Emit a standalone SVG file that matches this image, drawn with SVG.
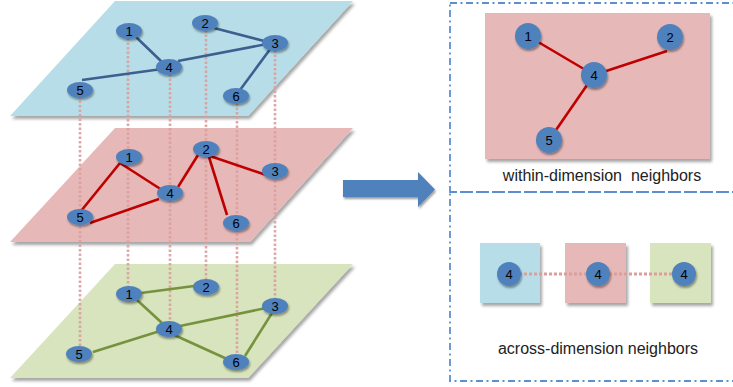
<svg xmlns="http://www.w3.org/2000/svg" width="733" height="387" viewBox="0 0 733 387">
<defs>
<filter id="sh" x="-20%" y="-20%" width="140%" height="150%">
<feDropShadow dx="2" dy="3" stdDeviation="1.8" flood-color="#000" flood-opacity="0.35"/>
</filter>
<filter id="nsh" x="-50%" y="-50%" width="200%" height="200%">
<feDropShadow dx="1" dy="2" stdDeviation="1.2" flood-color="#000" flood-opacity="0.4"/>
</filter>
<style>
.pb{fill:#b7dee8}
.pp{fill:#e6b9b8}
.pg{fill:#d7e4bd}
.nd{fill:#4f81bd;filter:url(#nsh)}
.lb{font-family:"Liberation Sans",Arial,sans-serif;font-size:13px;fill:#000;text-anchor:middle}
.cap{font-family:"Liberation Sans",Arial,sans-serif;font-size:16px;fill:#222;text-anchor:middle;white-space:pre}
.eb{stroke:#3c5f8f;stroke-width:2.6;fill:none}
.er{stroke:#c00000;stroke-width:2.6;fill:none}
.eg{stroke:#76923c;stroke-width:2.6;fill:none}
.vd{stroke:#dc9e9c;stroke-width:2.6;stroke-dasharray:2.5 2;fill:none;opacity:0.9}
.bx{fill:none;stroke:#5b8fd0;stroke-width:1.8;stroke-dasharray:7 3.5 2 3.5}
</style>
</defs>

<!-- planes -->
<g id="plane-top"><polygon class="pb" filter="url(#sh)" points="115,1 353,1 248,116 10,116"/></g>
<g id="plane-mid"><polygon class="pp" filter="url(#sh)" points="115,128 353,128 250,242 10,242"/></g>
<g id="plane-bot"><polygon class="pg" filter="url(#sh)" points="115,264 353,264 248,378 10,378"/></g>

<!-- right panels -->
<g id="panel-within">
<rect class="bx" x="450" y="3" width="290" height="189"/>
<rect x="485" y="13" width="225" height="146" fill="#e6b9b8" filter="url(#sh)"/>
<text class="cap" x="602" y="181" xml:space="preserve">within-dimension  neighbors</text>
</g>
<g id="panel-across">
<rect class="bx" x="450" y="192" width="290" height="189"/>
<rect x="480" y="243" width="60" height="60" class="pb" filter="url(#sh)"/>
<rect x="565" y="243" width="61" height="60" class="pp" filter="url(#sh)"/>
<rect x="650" y="243" width="61" height="60" class="pg" filter="url(#sh)"/>
<text class="cap" x="598" y="354">across-dimension neighbors</text>
</g>

<!-- connectors -->
<g id="connectors">
<line class="vd" x1="80" y1="96" x2="80" y2="350"/>
<line class="vd" x1="128" y1="38" x2="128" y2="290"/>
<line class="vd" x1="170" y1="74" x2="170" y2="325"/>
<line class="vd" x1="206" y1="30" x2="206" y2="283"/>
<line class="vd" x1="237" y1="103" x2="237" y2="357"/>
<line class="vd" x1="275" y1="50" x2="275" y2="302"/>

<line class="eb" x1="136" y1="37" x2="163" y2="63"/>
<line class="eb" x1="214" y1="28" x2="268" y2="42"/>
<line class="eb" x1="178" y1="61" x2="267" y2="44"/>
<line class="eb" x1="162" y1="69" x2="82" y2="80"/>
<line class="eb" x1="271" y1="48" x2="240" y2="90"/>

<line class="er" x1="120" y1="163" x2="81" y2="211"/>
<line class="er" x1="120" y1="163" x2="162" y2="190"/>
<line class="er" x1="178" y1="187" x2="198" y2="155"/>
<line class="er" x1="210" y1="156" x2="266" y2="175"/>
<line class="er" x1="209" y1="157" x2="227" y2="215"/>
<line class="er" x1="90" y1="223" x2="159" y2="199"/>

<line class="eg" x1="141" y1="293" x2="194" y2="286"/>
<line class="eg" x1="137" y1="300" x2="162" y2="323"/>
<line class="eg" x1="180" y1="326" x2="266" y2="308"/>
<line class="eg" x1="272" y1="313" x2="245" y2="356"/>
<line class="eg" x1="172" y1="334" x2="227" y2="359"/>
<line class="eg" x1="160" y1="331" x2="93" y2="352"/>

<line class="er" x1="528" y1="36" x2="594" y2="75"/>
<line class="er" x1="594" y1="75" x2="667" y2="51"/>
<line class="er" x1="594" y1="75" x2="556" y2="130"/>

<line stroke="#dc9e9c" stroke-width="3" stroke-dasharray="3 2" x1="509" y1="274" x2="684" y2="274"/>
</g>

<!-- top layer nodes -->
<g id="t1"><ellipse class="nd" cx="129" cy="31" rx="13" ry="8"/><text class="lb" x="129" y="36">1</text></g>
<g id="t2"><ellipse class="nd" cx="205" cy="23" rx="13" ry="8"/><text class="lb" x="205" y="28">2</text></g>
<g id="t3"><ellipse class="nd" cx="275" cy="43" rx="13" ry="8"/><text class="lb" x="275" y="48">3</text></g>
<g id="t4"><ellipse class="nd" cx="169" cy="67" rx="13" ry="8"/><text class="lb" x="169" y="72">4</text></g>
<g id="t5"><ellipse class="nd" cx="80" cy="90" rx="13" ry="8"/><text class="lb" x="80" y="95">5</text></g>
<g id="t6"><ellipse class="nd" cx="236" cy="96" rx="13" ry="8"/><text class="lb" x="236" y="101">6</text></g>

<!-- middle layer nodes -->
<g id="m1"><ellipse class="nd" cx="129" cy="157" rx="13" ry="8"/><text class="lb" x="129" y="162">1</text></g>
<g id="m2"><ellipse class="nd" cx="206" cy="149" rx="13" ry="8"/><text class="lb" x="206" y="154">2</text></g>
<g id="m3"><ellipse class="nd" cx="275" cy="171" rx="13" ry="8"/><text class="lb" x="275" y="176">3</text></g>
<g id="m4"><ellipse class="nd" cx="170" cy="193" rx="13" ry="8"/><text class="lb" x="170" y="198">4</text></g>
<g id="m5"><ellipse class="nd" cx="80" cy="217" rx="13" ry="8"/><text class="lb" x="80" y="222">5</text></g>
<g id="m6"><ellipse class="nd" cx="236" cy="223" rx="13" ry="8"/><text class="lb" x="236" y="228">6</text></g>

<!-- bottom layer nodes -->
<g id="b1"><ellipse class="nd" cx="129" cy="294" rx="13" ry="8"/><text class="lb" x="129" y="299">1</text></g>
<g id="b2"><ellipse class="nd" cx="206" cy="287" rx="13" ry="8"/><text class="lb" x="206" y="292">2</text></g>
<g id="b3"><ellipse class="nd" cx="275" cy="306" rx="13" ry="8"/><text class="lb" x="275" y="311">3</text></g>
<g id="b4"><ellipse class="nd" cx="169" cy="329" rx="13" ry="8"/><text class="lb" x="169" y="334">4</text></g>
<g id="b5"><ellipse class="nd" cx="79" cy="354" rx="13" ry="8"/><text class="lb" x="79" y="359">5</text></g>
<g id="b6"><ellipse class="nd" cx="236" cy="362" rx="13" ry="8"/><text class="lb" x="236" y="367">6</text></g>

<!-- arrow -->
<g id="arrow"><polygon fill="#4f81bd" filter="url(#nsh)" points="343,180 418,180 418,172 435,189.5 418,207 418,197 343,197"/></g>

<!-- right panel nodes -->
<g id="w1"><circle class="nd" cx="528" cy="36" r="13"/><text class="lb" x="528" y="41">1</text></g>
<g id="w2"><circle class="nd" cx="670" cy="37" r="13"/><text class="lb" x="670" y="42">2</text></g>
<g id="w4"><circle class="nd" cx="594" cy="75" r="13"/><text class="lb" x="594" y="80">4</text></g>
<g id="w5"><circle class="nd" cx="549" cy="140" r="13"/><text class="lb" x="549" y="145">5</text></g>
<g id="a1"><circle class="nd" cx="509" cy="274" r="12"/><text class="lb" x="509" y="279">4</text></g>
<g id="a2"><circle class="nd" cx="598" cy="274" r="12"/><text class="lb" x="598" y="279">4</text></g>
<g id="a3"><circle class="nd" cx="684" cy="274" r="12"/><text class="lb" x="684" y="279">4</text></g>
</svg>
